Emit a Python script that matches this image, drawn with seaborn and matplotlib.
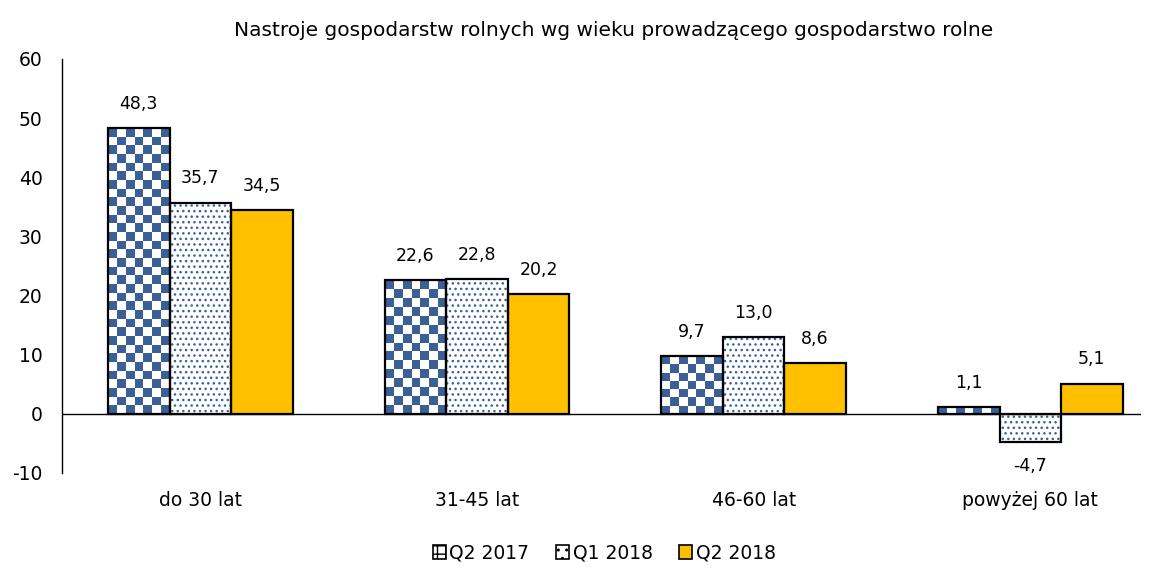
import numpy as np
import pandas as pd
import seaborn as sns
import matplotlib.pyplot as plt
from matplotlib.colors import ListedColormap
from matplotlib.patches import Rectangle, Patch

categories = ['do 30 lat', '31-45 lat', '46-60 lat', 'powyżej 60 lat']
series = ['Q2 2017', 'Q1 2018', 'Q2 2018']
q2_2017 = [48.3, 22.6, 9.7, 1.1]
q1_2018 = [35.7, 22.8, 13.0, -4.7]
q2_2018 = [34.5, 20.2, 8.6, 5.1]

blue = '#3a6096'
yellow = '#ffc000'

rows = []
for name, vals in zip(series, [q2_2017, q1_2018, q2_2018]):
    for cat, v in zip(categories, vals):
        rows.append({'grupa': cat, 'seria': name, 'wartosc': v})
df = pd.DataFrame(rows)

sns.set_style('white')
plt.rcParams['font.family'] = ['DejaVu Sans']
plt.rcParams['text.color'] = 'black'
plt.rcParams['xtick.color'] = 'black'
plt.rcParams['ytick.color'] = 'black'
plt.rcParams['axes.unicode_minus'] = False

fig = plt.figure(figsize=(11.55, 5.69), dpi=100)
ax = fig.add_axes([62 / 1155, 1 - 473 / 569, (1141 - 62) / 1155, 414 / 569])

sns.barplot(data=df, x='grupa', y='wartosc', hue='seria', order=categories,
            hue_order=series, palette=['white', 'white', yellow], saturation=1,
            width=0.667, edgecolor='black', linewidth=1.6, legend=False, ax=ax)

ax.set_xlim(-0.5, 3.4)
ax.set_ylim(-10, 60)
ax.set_yticks(range(-10, 61, 10))

# checkerboard for Q2 2017
px_per_unit = 414 / 70
for p in ax.containers[0].patches:
    x0, y0, x1, y1 = p.get_bbox().extents
    ncols = 7
    cell_px = (x1 - x0) * 276.7 / ncols
    nrows = max(1, int(round(abs(y1 - y0) * px_per_unit / cell_px)))
    board = 1 - (np.add.outer(np.arange(nrows), np.arange(ncols)) % 2)
    im = ax.imshow(board, cmap=ListedColormap(['white', blue]), vmin=0, vmax=1,
                   extent=(x0, x1, min(y0, y1), max(y0, y1)), aspect='auto',
                   interpolation='nearest', zorder=1.5)
    im.set_clip_path(p)
    p.set_facecolor('none')
    p.set_zorder(2)

# dotted pattern for Q1 2018
for p in ax.containers[1].patches:
    p.set_hatch('...')
    p.set_edgecolor(blue)
    p.set_linewidth(0)
    ax.add_patch(Rectangle((p.get_x(), p.get_y()), p.get_width(), p.get_height(),
                           fill=False, edgecolor='black', linewidth=1.6, zorder=3))

ax.set_xlim(-0.5, 3.4)
ax.set_ylim(-10, 60)

for cont, vals in zip(ax.containers, [q2_2017, q1_2018, q2_2018]):
    ax.bar_label(cont, labels=[f'{v:.1f}'.replace('.', ',') for v in vals],
                 padding=11, fontsize=12.5)

ax.axhline(0, color='black', linewidth=1, zorder=1)
sns.despine(ax=ax, top=True, right=True, bottom=True)
ax.spines['left'].set_color('black')
ax.spines['left'].set_linewidth(1)
ax.tick_params(axis='y', length=0, pad=14, labelsize=13.5)
ax.tick_params(axis='x', length=0, pad=13, labelsize=13.5)
ax.set_xlabel('')
ax.set_ylabel('')

fig.text(0.531, 1 - 30 / 569, 'Nastroje gospodarstw rolnych wg wieku prowadzącego gospodarstwo rolne',
         ha='center', va='center', fontsize=14.5)

handles = [Patch(facecolor='white', edgecolor='black', hatch='++', linewidth=1.2),
           Patch(facecolor='white', edgecolor='black', hatch='..', linewidth=1.2),
           Patch(facecolor=yellow, edgecolor='black', linewidth=1.2)]
fig.legend(handles, series, loc='center', bbox_to_anchor=(0.523, 1 - 553 / 569),
           ncol=3, frameon=False, fontsize=13.5, handlelength=0.7, handleheight=0.7,
           handletextpad=0.2, columnspacing=1.4)

fig.savefig('out.png', dpi=100)
